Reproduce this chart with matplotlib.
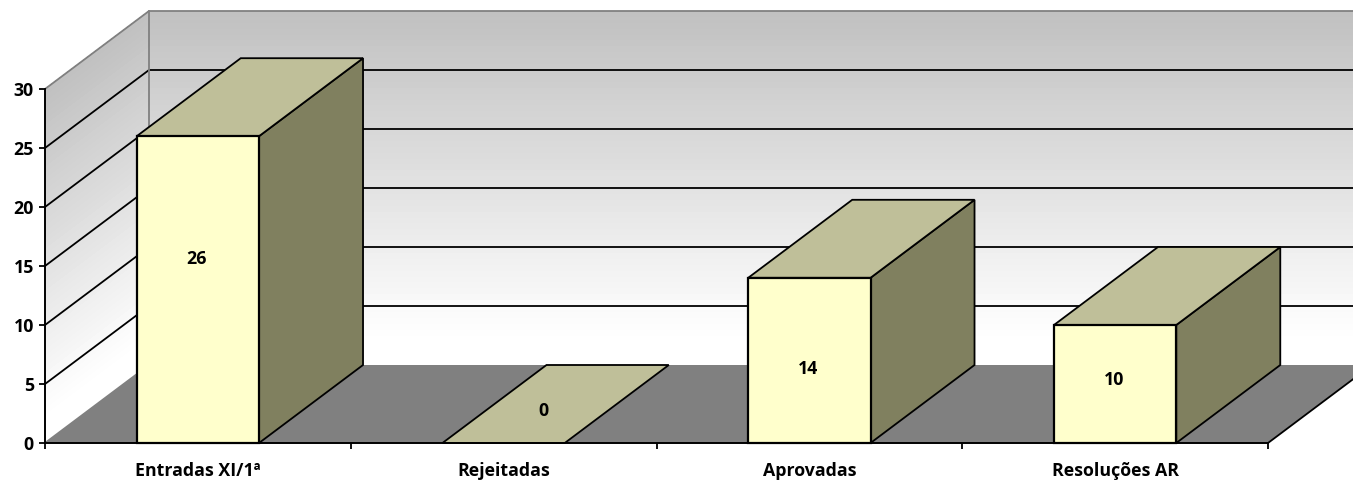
import matplotlib
matplotlib.use('Agg')
import matplotlib.pyplot as plt
import numpy as np
from matplotlib.patches import Polygon

categories = ['Entradas XI/1ª', 'Rejeitadas', 'Aprovadas', 'Resoluções AR']
values = [26, 0, 14, 10]
y_ticks = [0, 5, 10, 15, 20, 25, 30]

W, H = 1353, 480
LEFT, RIGHT, BOTTOM, TOP = 45, 1268, 443, 89
FONT = 12.8

plt.rcParams['font.family'] = ['Open Sans', 'DejaVu Sans']
plt.rcParams['font.weight'] = 'bold'

fig = plt.figure(figsize=(W / 100, H / 100), dpi=100, facecolor='white')
ax = fig.add_axes([LEFT / W, 1 - BOTTOM / H, (RIGHT - LEFT) / W, (BOTTOM - TOP) / H])
ax.set_xlim(0, len(categories))
ax.set_ylim(0, 30)
ax.patch.set_visible(False)

# oblique depth of the fake 3d box, in data units
dx = 104 / ((RIGHT - LEFT) / 4.0)
dy = 78 / ((BOTTOM - TOP) / 30.0)
n = len(categories)
ymax = y_ticks[-1]

# walls, both share the same vertical gradient
levels = np.linspace(0, ymax, 61)
shade = np.clip(1.0 - (levels[:-1] - 2) / (ymax - 2) * 0.25, 0.75, 1.0)
shade = shade[:, None]

s = np.array([0.0, 1.0])
Xb, Yb = np.meshgrid(dx + s * n, levels + dy)
ax.pcolormesh(Xb, Yb, shade, cmap='gray', vmin=0, vmax=1, clip_on=False, zorder=1)
Xs = np.outer(np.ones_like(levels), s * dx)
Ys = np.outer(levels, np.ones(2)) + np.outer(np.ones_like(levels), s * dy)
ax.pcolormesh(Xs, Ys, shade, cmap='gray', vmin=0, vmax=1, clip_on=False, zorder=1)

# floor
ax.add_patch(Polygon([(0, 0), (n, 0), (n + dx, dy), (dx, dy)], closed=True,
                     facecolor='#808080', edgecolor='none', clip_on=False, zorder=2))
ax.plot([n, n + dx], [0, dy], color='black', lw=1.3, clip_on=False, zorder=2)
ax.plot([0, dx], [0, dy], color='#808080', lw=1.3, clip_on=False, zorder=2)

# gridlines run along the side wall then the back wall
for v in y_ticks[1:-1]:
    ax.plot([0, dx, n + dx], [v, v + dy, v + dy], color='black', lw=1.3,
            clip_on=False, zorder=3)
ax.plot([0, dx, n + dx], [ymax, ymax + dy, ymax + dy], color='#808080', lw=1.3,
        clip_on=False, zorder=3)
ax.plot([dx, dx], [dy, ymax + dy], color='#808080', lw=1.3, clip_on=False, zorder=3)

# bars
bar_w = 0.4
xpos = np.arange(n) + 0.5
for i in range(n):
    x0 = xpos[i] - bar_w / 2
    x1 = xpos[i] + bar_w / 2
    v = values[i]
    z = 4 + i
    if v > 0:
        ax.add_patch(Polygon([(x1, 0), (x1 + dx, dy), (x1 + dx, v + dy), (x1, v)],
                             closed=True, facecolor='#80805F', edgecolor='black',
                             lw=1.3, clip_on=False, zorder=z))
    ax.add_patch(Polygon([(x0, v), (x1, v), (x1 + dx, v + dy), (x0 + dx, v + dy)],
                         closed=True, facecolor='#BFBF99', edgecolor='black',
                         lw=1.3, clip_on=False, zorder=z))
    if v > 0:
        ax.bar(xpos[i], v, width=bar_w, color='#FFFFCC', edgecolor='black', lw=1.6,
               clip_on=False, zorder=z)

# data labels sit where the original chart put them
label_x = [0.497, 1.63, 2.497, 3.498]
label_y = [15.6, 2.75, 6.3, 5.3]
for i in range(n):
    ax.text(label_x[i], label_y[i], str(values[i]), ha='center', va='center',
            fontsize=FONT, fontweight='bold', color='black', zorder=20)

ax.spines['top'].set_visible(False)
ax.spines['right'].set_visible(False)
for side in ['left', 'bottom']:
    ax.spines[side].set_linewidth(1.4)
    ax.spines[side].set_zorder(15)

ax.set_yticks(y_ticks)
ax.set_xticks(range(n + 1))
ax.set_xticklabels([])
ax.set_xticks(xpos, minor=True)
ax.set_xticklabels(categories, minor=True)
ax.tick_params(axis='x', which='major', length=4, width=1.3)
ax.tick_params(axis='x', which='minor', length=0, pad=14, labelsize=FONT)
ax.tick_params(axis='y', length=4, width=1.3, pad=4, labelsize=FONT)

fig.savefig('out.png', dpi=100)
